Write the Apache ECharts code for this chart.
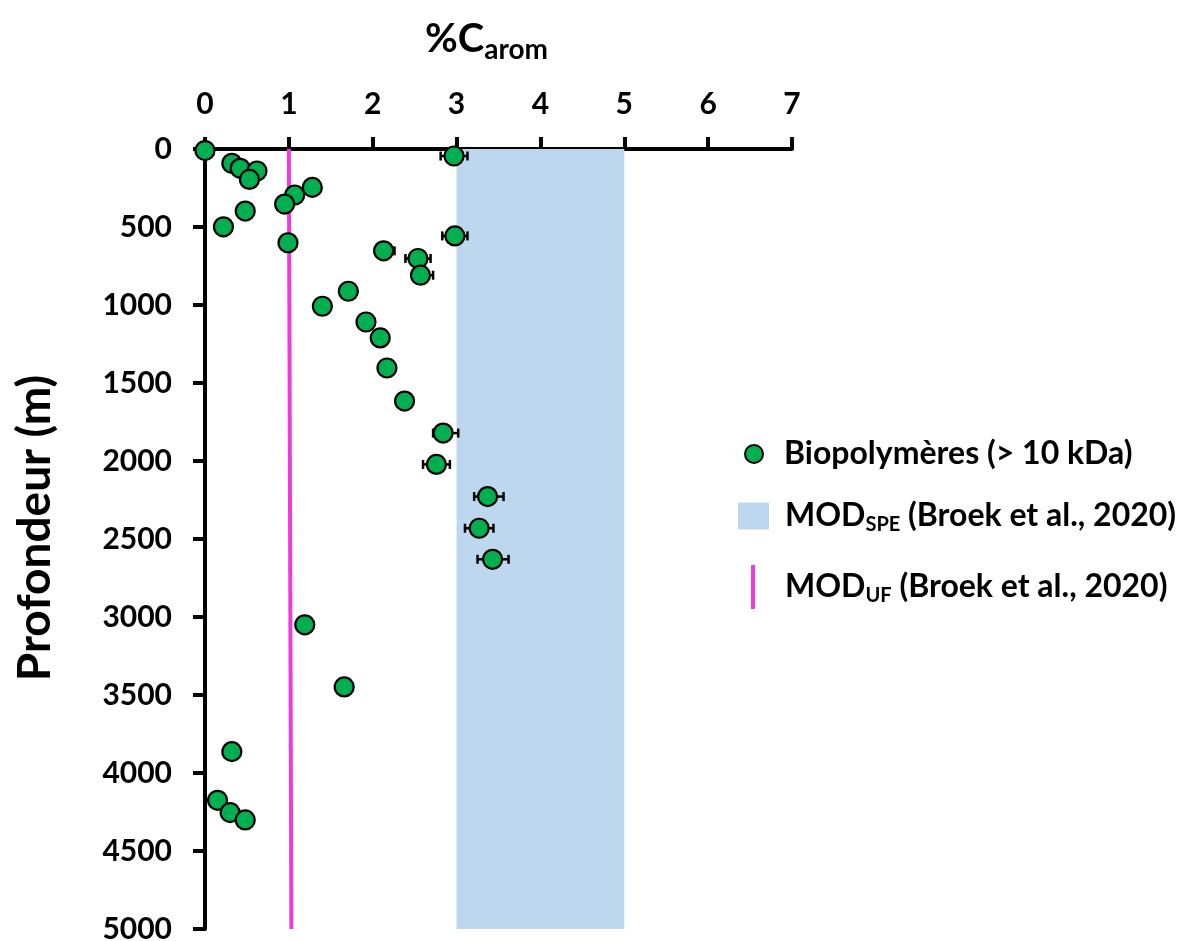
<!DOCTYPE html>
<html><head><meta charset="utf-8">
<script src="https://cdn.jsdelivr.net/npm/echarts@6/dist/echarts.min.js"></script>
<style>html,body{margin:0;padding:0;background:#fff}#c{width:1193px;height:941px}</style>
</head><body><div id="c"></div>
<script>
// ---- data ----
const depth  = [10, 45, 92, 124, 141, 195, 246, 295, 353, 398, 499, 601, 557, 653, 702, 809,
                912, 1008, 1109, 1211, 1404, 1616, 1821, 2022, 2228, 2431, 2630, 3050, 3448, 3863, 4175, 4254, 4301];
const carom  = [0.00, 2.97, 0.32, 0.42, 0.62, 0.53, 1.28, 1.07, 0.95, 0.48, 0.22, 0.99, 2.98, 2.13, 2.54, 2.57,
                1.71, 1.40, 1.92, 2.09, 2.17, 2.38, 2.84, 2.76, 3.37, 3.27, 3.43, 1.19, 1.66, 0.32, 0.15, 0.30, 0.48];
const errLow = [0, 0.16, 0, 0, 0, 0, 0, 0, 0, 0, 0, 0, 0.15, 0.05, 0.15, 0.05,
                0, 0, 0, 0, 0, 0, 0.12, 0.16, 0.16, 0.17, 0.18, 0, 0, 0, 0, 0, 0];
const errHigh= [0, 0.16, 0, 0, 0, 0, 0, 0, 0, 0, 0, 0, 0.15, 0.13, 0.15, 0.15,
                0, 0, 0, 0, 0, 0, 0.18, 0.16, 0.19, 0.17, 0.19, 0, 0, 0, 0, 0, 0];
const speRange = [3, 5];          // MOD_SPE band (%C_arom)
const ufX      = [1.00, 1.03];    // MOD_UF line (%C_arom) at top / bottom
const ufDepth  = [0, 5000];
const xTickLabels = ['0','1','2','3','4','5','6','7'];
const yTickLabels = ['0','500','1000','1500','2000','2500','3000','3500','4000','4500','5000'];

const FONT = 'Lato';
const nameBio = 'Biopolymères (> 10 kDa)';
const nameSpe = 'MODSPE';
const nameUf  = 'MODUF';

const chart = echarts.init(document.getElementById('c'));
const richMain = {
  b: {fontFamily: FONT, fontWeight: 'bold', fontSize: 32, color: '#000', lineHeight: 38},
  s: {fontFamily: FONT, fontWeight: 'bold', fontSize: 20, color: '#000', lineHeight: 18, verticalAlign: 'bottom'},
  sp1: {width: 7}, sp2: {width: 11}, sp3: {width: 25}
};
function legendCfg(name, icon, left, top, w, h, color, fmt) {
  return {
    data: [{name: name, icon: icon, itemStyle: color ? {color: color, borderWidth: 0} : undefined}],
    left: left, top: top, itemWidth: w, itemHeight: h, selectedMode: false,
    padding: 0, formatter: () => fmt,
    textStyle: {rich: richMain}
  };
}

chart.setOption({
  animation: false,
  backgroundColor: '#fff',
  title: {
    text: '{m|%C}{s|arom}', left: 420, top: 9,
    textStyle: {rich: {
      m: {fontFamily: FONT, fontWeight: 'bold', fontSize: 40, color: '#000', lineHeight: 50},
      s: {fontFamily: FONT, fontWeight: 'bold', fontSize: 28, color: '#000', lineHeight: 21, verticalAlign: 'bottom'}
    }}
  },
  legend: [
    legendCfg(nameBio, 'circle', 744, 438, 36, 18, null, '{sp1|}{b|' + nameBio + '}'),
    legendCfg(nameSpe, 'rect', 738, 500, 31, 27, '#BDD7EE', '{sp2|}{b|MOD}{s|SPE}{b| (Broek et al., 2020)}'),
    legendCfg(nameUf, 'rect', 751, 565, 4, 44, '#F03ADC', '{sp3|}{b|MOD}{s|UF}{b| (Broek et al., 2020)}')
  ],
  grid: {left: 205, top: 149, width: 587, height: 780, containLabel: false, outerBoundsMode: 'none'},
  xAxis: {
    type: 'value', position: 'top', min: 0, max: 7, interval: 1,
    axisLine: {show: true, onZero: false, lineStyle: {color: '#000', width: 4}},
    axisTick: {show: true, inside: false, length: 12, lineStyle: {color: '#000', width: 4}},
    splitLine: {show: false},
    axisLabel: {margin: 30, fontFamily: FONT, fontWeight: 'bold', fontSize: 30, color: '#000',
                formatter: (v) => xTickLabels[Math.round(v)]}
  },
  yAxis: {
    type: 'value', inverse: true, min: 0, max: 5000, interval: 500,
    name: 'Profondeur (m)', nameLocation: 'middle', nameGap: 147, nameRotate: 90,
    nameTextStyle: {fontFamily: FONT, fontWeight: 'bold', fontSize: 46, color: '#000', padding: [0, 0, 0, 22]},
    axisLine: {show: true, onZero: false, lineStyle: {color: '#000', width: 4}},
    axisTick: {show: true, inside: false, length: 12, lineStyle: {color: '#000', width: 4}},
    splitLine: {show: false},
    axisLabel: {margin: 33, fontFamily: FONT, fontWeight: 'bold', fontSize: 30, color: '#000',
                formatter: (v) => yTickLabels[Math.round(v / 500)]}
  },
  series: [
    {
      name: nameSpe, type: 'custom', z: 1, silent: true,
      itemStyle: {color: '#BDD7EE'},
      data: [[speRange[0], speRange[1], ufDepth[0], ufDepth[1]]],
      renderItem: (params, api) => {
        const p0 = api.coord([api.value(0), api.value(2)]);
        const p1 = api.coord([api.value(1), api.value(3)]);
        return {type: 'rect', shape: {x: p0[0], y: p0[1], width: p1[0] - p0[0], height: p1[1] - p0[1]},
                style: {fill: '#BDD7EE'}};
      }
    },
    {
      name: nameUf, type: 'line', z: 2, silent: true, symbol: 'none', color: '#F03ADC',
      lineStyle: {color: '#F03ADC', width: 4},
      data: ufX.map((v, i) => [v, ufDepth[i]])
    },
    {
      name: 'err', type: 'custom', z: 3, silent: true,
      data: carom.map((v, i) => [v, depth[i], errLow[i], errHigh[i]]),
      encode: {x: 0, y: 1},
      renderItem: (params, api) => {
        const x = api.value(0), y = api.value(1), lo = api.value(2), hi = api.value(3);
        if (!lo && !hi) return null;
        const a = api.coord([x - lo, y]), b = api.coord([x + hi, y]);
        const h = 4.5;
        const st = {stroke: '#000', lineWidth: 2.5};
        return {type: 'group', children: [
          {type: 'line', shape: {x1: a[0], y1: a[1], x2: b[0], y2: b[1]}, style: st},
          {type: 'line', shape: {x1: a[0], y1: a[1] - h, x2: a[0], y2: a[1] + h}, style: st},
          {type: 'line', shape: {x1: b[0], y1: b[1] - h, x2: b[0], y2: b[1] + h}, style: st}
        ]};
      }
    },
    {
      name: nameBio, type: 'scatter', z: 4, symbol: 'circle', symbolSize: 19,
      itemStyle: {color: '#00B050', borderColor: '#000', borderWidth: 2.2, opacity: 1},
      data: carom.map((v, i) => [v, depth[i]])
    }
  ]
});
</script></body></html>
